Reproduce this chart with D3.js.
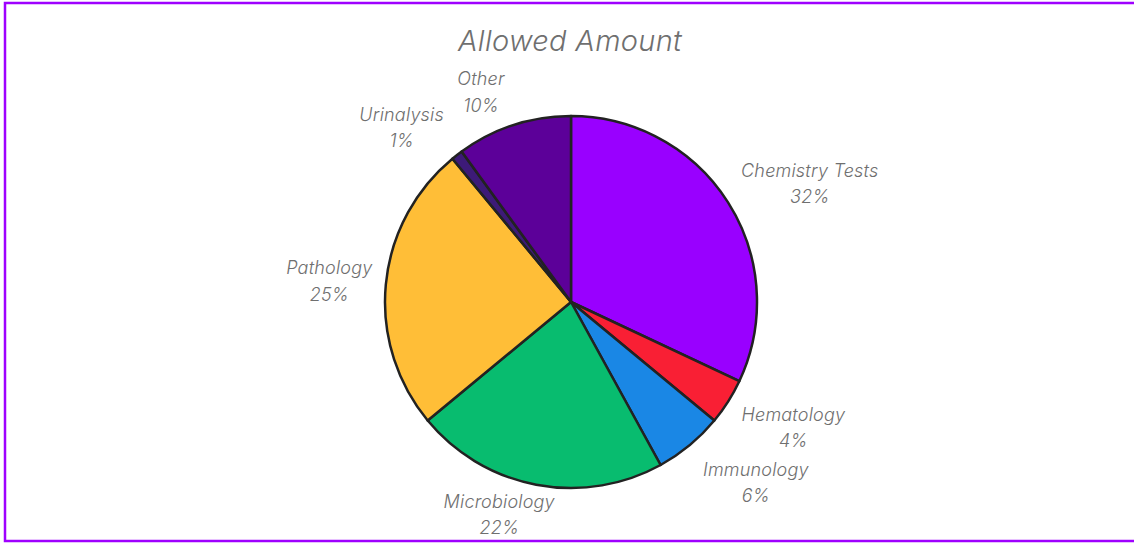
<!DOCTYPE html>
<html><head><meta charset="utf-8">
<script src="https://cdn.jsdelivr.net/npm/d3@7"></script>
<style>
html,body{margin:0;padding:0;background:#fff;}
svg{display:block;}
text{font-family:Inter,"Liberation Sans",sans-serif;font-style:italic;font-weight:300;fill:#6f6f6f;}
</style></head>
<body>
<svg id="chart" width="1134" height="544"></svg>
<script>
const categories = ["Chemistry Tests","Hematology","Immunology","Microbiology","Pathology","Urinalysis","Other"];
const values = [32, 4, 6, 22, 25, 1, 10];
const colors = ["#9900ff","#f91f34","#1a87e5","#08bc6f","#ffbe37","#3d1a78","#5c0099"];
const title = "Allowed Amount";

const W = 1134, H = 544;
const svg = d3.select("#chart");
svg.append("rect").attr("x",5).attr("y",3).attr("width",1140).attr("height",538)
  .attr("fill","#fff").attr("stroke","#9f00ff").attr("stroke-width",2.5);

svg.append("text").attr("x",570).attr("y",51).attr("text-anchor","middle")
  .style("font-size","29px").style("letter-spacing","0.3px").text(title);

const cx = 571, cy = 302, r = 186;
const total = d3.sum(values);
const pie = d3.pie().sort(null).value(d => d.v);
const data = categories.map((c,i)=>({c, v: values[i], col: colors[i]}));
const arcs = pie(data);
const arc = d3.arc().innerRadius(0).outerRadius(r);
const g = svg.append("g").attr("transform",`translate(${cx},${cy})`);
g.selectAll("path").data(arcs).join("path")
  .attr("d", arc).attr("fill", d => d.data.col)
  .attr("stroke","#222").attr("stroke-width",2.5).attr("stroke-linejoin","round");

const fmt = d3.format(".0%");
const lg = g.append("g");
arcs.forEach(a => {
  const mid = (a.startAngle + a.endAngle)/2;
  const s = Math.sin(mid), c = Math.cos(mid);
  const px = s*r, py = -c*r;
  const t = lg.append("text").attr("text-anchor","middle").style("font-size","18px").style("letter-spacing","0.2px");
  t.append("tspan").attr("x",0).attr("dy",0).text(a.data.c);
  t.append("tspan").attr("x",0).attr("dy",26.5).text(fmt(a.data.v/total));
  const bb = t.node().getBBox();
  const hw = bb.width/2, gap = 13;
  const f = Math.min(1, Math.abs(s)/0.35);
  const dx = Math.sign(s)*(hw+gap)*f;
  const k = c < 0 ? 27 + 21*Math.pow(f,3) : 35;
  const dy = -c*k;
  const lx = px + dx, ly = py + dy;
  t.attr("transform",`translate(${lx},${ly - 13.25 + 6.5})`);
});
</script>
</body></html>
